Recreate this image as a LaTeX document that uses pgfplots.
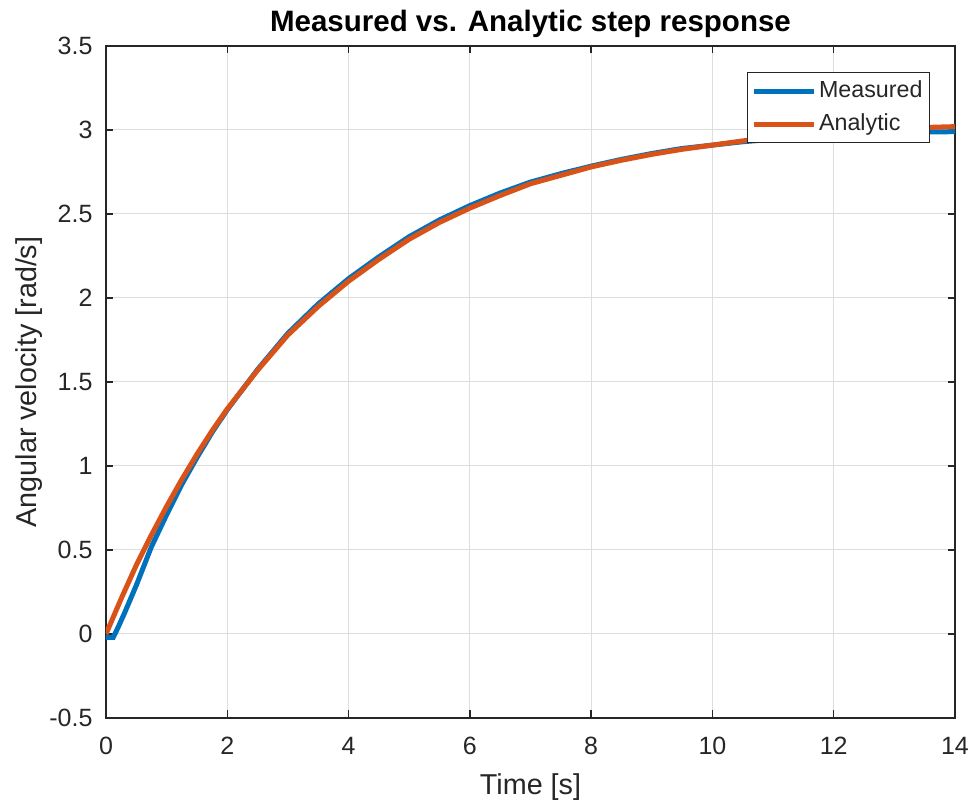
\documentclass[border=0pt]{standalone}
\usepackage{pgfplots}
\pgfplotsset{compat=1.18}
\usepackage{fontspec}
\setmainfont{Liberation Sans}
\definecolor{mblue}{rgb}{0,0.447,0.741}
\definecolor{morange}{rgb}{0.85,0.325,0.098}
\definecolor{axgray}{RGB}{38,38,38}

\begin{document}
\begin{tikzpicture}
\begin{axis}[
  scale only axis,
  width=339.6pt, height=268.8pt,
  xmin=0, xmax=14, ymin=-0.5, ymax=3.5,
  xtick={0,2,...,14},
  ytick={-0.5,0,0.5,1,1.5,2,2.5,3,3.5},
  grid=major,
  grid style={line width=0.4pt, color=black!13},
  axis line style={line width=0.6pt, color=axgray},
  tick style={line width=0.6pt, color=axgray},
  major tick length=3pt,
  tick align=inside,
  /pgf/number format/assume math mode=true,
  ticklabel style={font=\fontsize{10}{12}\selectfont, text=axgray},
  xticklabel style={anchor=base, yshift=-14.8pt},
  yticklabel style={anchor=east, inner sep=0pt, xshift=-5.2pt},
  every axis title shift=0pt,
  title={Measured vs. Analytic step response},
  title style={at={(0.5,1.02083)}, anchor=base, font=\bfseries\fontsize{11.8}{14}\selectfont},
  xlabel={Time [s]},
  ylabel={Angular velocity [rad/s]},
  xlabel style={at={(axis description cs:0.5,-0.11458)}, anchor=base, font=\fontsize{11.5}{14}\selectfont, text=axgray},
  ylabel style={at={(axis description cs:-0.08245,0.5)}, anchor=base, font=\fontsize{11.5}{14}\selectfont, text=axgray},
  legend style={at={(0.97055,0.96131)}, anchor=north east, draw=axgray, line width=0.4pt,
    font=\fontsize{9.3}{11}\selectfont, text=axgray, inner xsep=1.8pt, inner ysep=0.8pt,
    nodes={inner xsep=1pt, inner ysep=2.5pt}, cells={anchor=west}, column sep=0pt},
  legend image code/.code={\draw[#1, line width=2pt] (0pt,0pt) -- (24pt,0pt);},
]

\addplot[mblue, line width=2pt] coordinates {
  (0.0,-0.02) (0.12,-0.02) (0.2,0.04) (0.3,0.12) (0.5,0.29) (0.75,0.52)
  (1.0,0.71) (1.25,0.89) (1.5,1.05) (1.75,1.20) (2.0,1.335) (2.5,1.575)
  (3.0,1.79) (3.5,1.965) (4.0,2.115) (4.5,2.245) (5.0,2.365) (5.5,2.465)
  (6.0,2.55) (6.5,2.625) (7.0,2.69) (7.5,2.74) (8.0,2.785) (8.5,2.825)
  (9.0,2.86) (9.5,2.89) (10.0,2.91) (10.5,2.93) (11.0,2.945) (11.5,2.96)
  (12.0,2.97) (12.5,2.978) (13.0,2.984) (13.5,2.988) (14.0,2.99)
};
\addlegendentry{Measured}

\addplot[morange, line width=2pt] coordinates {
  (0.0,0.00) (0.25,0.21) (0.5,0.41) (0.75,0.59) (1.0,0.76) (1.25,0.92)
  (1.5,1.07) (1.75,1.21) (2.0,1.34) (2.5,1.57) (3.0,1.78) (3.5,1.95)
  (4.0,2.10) (4.5,2.23) (5.0,2.35) (5.5,2.45) (6.0,2.535) (6.5,2.61)
  (7.0,2.68) (7.5,2.73) (8.0,2.78) (8.5,2.82) (9.0,2.855) (9.5,2.885)
  (10.0,2.91) (10.5,2.935) (11.0,2.955) (11.5,2.97) (12.0,2.985)
  (12.5,2.995) (13.0,3.005) (13.5,3.015) (14.0,3.02)
};
\addlegendentry{Analytic}

\end{axis}
\pgfresetboundingbox
\useasboundingbox ([xshift=-42.4pt,yshift=-34pt]current axis.south west) rectangle ([xshift=6.4pt,yshift=18.4pt]current axis.north east);
\end{tikzpicture}
\end{document}
